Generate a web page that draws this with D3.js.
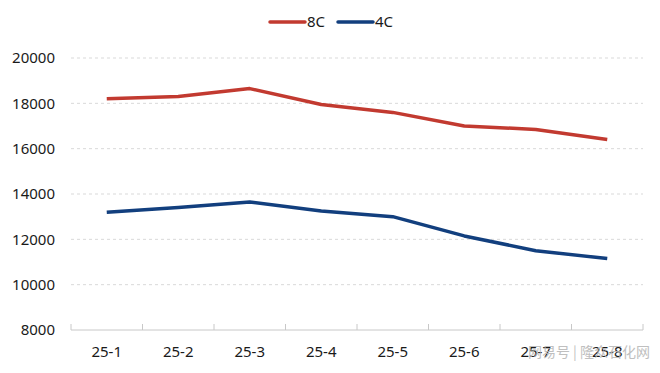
<!DOCTYPE html>
<html>
<head>
<meta charset="utf-8">
<script src="https://cdn.jsdelivr.net/npm/d3@7"></script>
<style>
  body { margin: 0; background: #fff; }
  text { font-family: "Noto Sans", "Noto Sans CJK SC", sans-serif; fill: #1a1a1a; }
</style>
</head>
<body>
<div id="chart"></div>
<script>
(function() {
    var width = 660,
        height = 373,
        margin = { top: 58, right: 17, bottom: 43, left: 71 };

    var categories = ['25-1', '25-2', '25-3', '25-4', '25-5', '25-6', '25-7', '25-8'];
    var values_8c = [18200, 18300, 18650, 17950, 17600, 17000, 16850, 16400];
    var values_4c = [13200, 13400, 13650, 13250, 13000, 12150, 11500, 11150];
    var y_ticks = [8000, 10000, 12000, 14000, 16000, 18000, 20000];

    var series = [
        { name: '8C', values: values_8c, color: '#c23a30' },
        { name: '4C', values: values_4c, color: '#123f7e' }
    ];

    var svg = d3.select('#chart').append('svg')
        .attr('width', width)
        .attr('height', height);

    var x = d3.scaleBand()
        .domain(categories)
        .range([margin.left, width - margin.right]);

    var y = d3.scaleLinear()
        .domain([8000, 20000])
        .range([height - margin.bottom, margin.top]);

    // grid lines
    svg.append('g')
        .selectAll('line')
        .data(y_ticks.slice(1))
        .join('line')
        .attr('x1', margin.left)
        .attr('x2', width - margin.right)
        .attr('y1', function(d) { return y(d); })
        .attr('y2', function(d) { return y(d); })
        .attr('stroke', '#d9d9d9')
        .attr('stroke-dasharray', '3,3')
        .attr('stroke-width', 1);

    // y axis labels
    svg.append('g')
        .selectAll('text')
        .data(y_ticks)
        .join('text')
        .attr('x', 55)
        .attr('y', function(d) { return y(d); })
        .attr('dy', '0.35em')
        .attr('text-anchor', 'end')
        .attr('font-size', 15)
        .text(function(d) { return d; });

    // x axis baseline + boundary ticks
    var base_y = y(8000);
    svg.append('line')
        .attr('x1', margin.left)
        .attr('x2', width - margin.right)
        .attr('y1', base_y)
        .attr('y2', base_y)
        .attr('stroke', '#c8c8c8')
        .attr('stroke-width', 1);

    var bounds = categories.map(function(c) { return x(c); });
    bounds.push(width - margin.right);
    svg.append('g')
        .selectAll('line')
        .data(bounds)
        .join('line')
        .attr('x1', function(d) { return d; })
        .attr('x2', function(d) { return d; })
        .attr('y1', base_y - 6)
        .attr('y2', base_y)
        .attr('stroke', '#c8c8c8');

    svg.append('g')
        .selectAll('text')
        .data(categories)
        .join('text')
        .attr('x', function(d) { return x(d) + x.bandwidth() / 2; })
        .attr('y', base_y + 22)
        .attr('dy', '0.35em')
        .attr('text-anchor', 'middle')
        .attr('font-size', 15)
        .text(function(d) { return d; });

    // lines
    var line = d3.line()
        .x(function(d, i) { return x(categories[i]) + x.bandwidth() / 2; })
        .y(function(d) { return y(d); });

    series.forEach(function(s) {
        svg.append('path')
            .datum(s.values)
            .attr('d', line)
            .attr('fill', 'none')
            .attr('stroke', s.color)
            .attr('stroke-width', 3.5)
            .attr('stroke-linejoin', 'round');
    });

    // legend
    var legend = svg.append('g');
    series.forEach(function(s, i) {
        var lx = 270 + i * 68;
        legend.append('line')
            .attr('x1', lx)
            .attr('x2', lx + 35)
            .attr('y1', 22)
            .attr('y2', 22)
            .attr('stroke', s.color)
            .attr('stroke-width', 3.5)
            .attr('stroke-linecap', 'round');
        legend.append('text')
            .attr('x', lx + 37)
            .attr('y', 22)
            .attr('dy', '0.35em')
            .attr('font-size', 15)
            .text(s.name);
    });

    // watermark (sits over the last labels, as in the source image)
    svg.append('text')
        .attr('x', 650)
        .attr('y', 357)
        .attr('text-anchor', 'end')
        .attr('font-size', 14)
        .style('font-family', '"Noto Sans CJK SC", sans-serif')
        .style('fill', '#b5b5b5')
        .style('opacity', 0.85)
        .text('网易号 | 隆众石化网');
})();
</script>
</body>
</html>
